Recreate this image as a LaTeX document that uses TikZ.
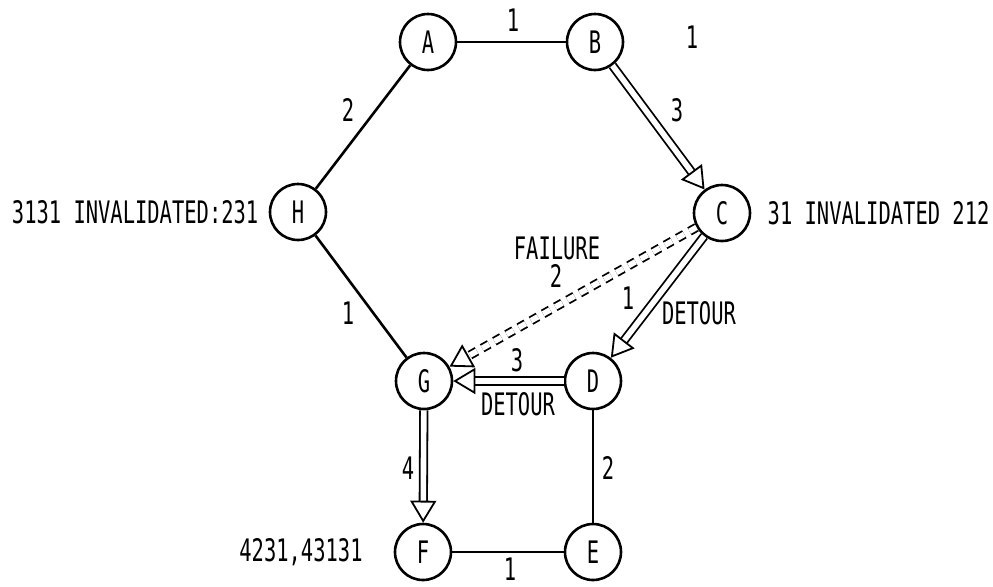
\documentclass[tikz,border=0pt]{standalone}
\usepackage{fontspec}
\setmainfont[FakeStretch=0.66]{DejaVu Sans Mono}
\usepackage{tikz}
\usetikzlibrary{arrows.meta,positioning}

\tikzset{
  station/.style={circle, draw, line width=1.3pt, minimum size=28pt, inner sep=0pt},
  link/.style={line width=1.3pt},
  detour/.style={double, double distance=2.8pt, line width=0.9pt,
    -{Triangle[open, length=11pt, width=13pt]}},
  failure/.style={detour, dash pattern=on 4pt off 3pt},
  lbl/.style={inner sep=0pt}
}

\begin{document}
\begin{tikzpicture}[x=0.5pt, y=-0.5pt, font=\fontsize{15.5}{18}\selectfont]
  \useasboundingbox (0,0) rectangle (993,586);
  % stations
  \node[station] (A) at (428,42) {A};
  \node[station] (B) at (595,42) {B};
  \node[station] (C) at (722,213) {C};
  \node[station] (H) at (298,212) {H};
  \node[station] (G) at (424,381) {G};
  \node[station] (D) at (593,381) {D};
  \node[station] (F) at (423,552) {F};
  \node[station] (E) at (593,552) {E};
  % plain links
  \draw[link] (A) -- (B);
  \draw[link] (A) -- (H);
  \draw[link] (H) -- (G);
  \draw[link] (D) -- (E);
  \draw[link] (F) -- (E);
  % detour path
  \draw[detour] (B) -- (C);
  \draw[detour] (C) -- (D);
  \draw[detour] (D) -- (G);
  \draw[detour] (G) -- (F);
  \draw[failure] (C) -- (G);
  % weights
  \node[lbl] (wAB) at (513,20) {1};
  \node[lbl] (wB) at (692,37) {1};
  \node[lbl] (wBC) at (677,110) {3};
  \node[lbl] (wAH) at (348,110) {2};
  \node[lbl] (wHG) at (348,313) {1};
  \node[lbl] (wCD) at (628,298) {1};
  \node[lbl] (wDG) at (517,360) {3};
  \node[lbl] (wGF) at (408,468) {4};
  \node[lbl] (wDE) at (608,468) {2};
  \node[lbl] (wFE) at (510,569) {1};
  % notes
  \node[lbl] (fail) at (557,248) {FAILURE};
  \node[lbl] (wCG) at (556,276) {2};
  \node[lbl] (detCD) at (699,313) {DETOUR};
  \node[lbl] (detDG) at (518,404) {DETOUR};
  \node[lbl, left=5pt of H] (tabH) {3131 INVALIDATED:231};
  \node[lbl, right=8pt of C] (tabC) {31 INVALIDATED 212};
  \node[lbl] (tabF) at (301,552) {4231,43131};
\end{tikzpicture}
\end{document}
